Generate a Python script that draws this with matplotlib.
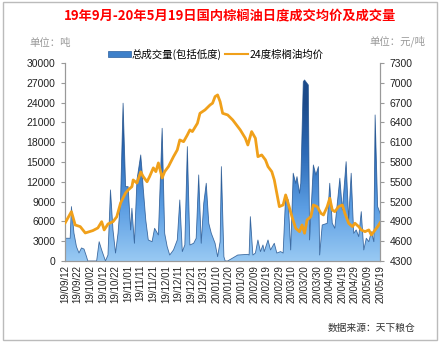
import numpy as np
import pandas as pd
import matplotlib
matplotlib.use('Agg')
import matplotlib.pyplot as plt
import matplotlib.dates as mdates
from matplotlib.colors import LinearSegmentedColormap
from matplotlib.patches import Patch, Rectangle
from matplotlib.lines import Line2D

plt.rcParams['font.family'] = ['Liberation Sans', 'Noto Sans CJK SC', 'DejaVu Sans']

# 总成交量 (吨)
vol_dates = ['2019-09-12', '2019-09-16', '2019-09-17', '2019-09-19', '2019-09-21', '2019-09-23',
             '2019-09-25', '2019-09-27', '2019-09-29', '2019-09-30', '2019-10-07', '2019-10-09',
             '2019-10-11', '2019-10-14', '2019-10-16', '2019-10-18', '2019-10-20', '2019-10-22',
             '2019-10-24', '2019-10-26', '2019-10-28', '2019-10-30', '2019-11-01', '2019-11-03',
             '2019-11-04', '2019-11-06', '2019-11-08', '2019-11-11', '2019-11-12', '2019-11-13',
             '2019-11-15', '2019-11-17', '2019-11-20', '2019-11-22', '2019-11-25', '2019-11-28',
             '2019-11-30', '2019-12-02', '2019-12-04', '2019-12-07', '2019-12-10', '2019-12-12',
             '2019-12-14', '2019-12-16', '2019-12-18', '2019-12-20', '2019-12-23', '2019-12-25',
             '2019-12-27', '2019-12-29', '2019-12-31', '2020-01-02', '2020-01-04', '2020-01-06',
             '2020-01-09', '2020-01-11', '2020-01-13', '2020-01-14', '2020-01-16', '2020-01-17',
             '2020-01-19', '2020-01-27', '2020-02-04', '2020-02-05', '2020-02-06', '2020-02-08',
             '2020-02-10', '2020-02-12', '2020-02-14', '2020-02-16', '2020-02-17', '2020-02-20',
             '2020-02-22', '2020-02-25', '2020-02-27', '2020-03-01', '2020-03-03', '2020-03-05',
             '2020-03-07', '2020-03-09', '2020-03-11', '2020-03-13', '2020-03-14', '2020-03-16',
             '2020-03-17', '2020-03-19', '2020-03-20', '2020-03-23', '2020-03-24', '2020-03-27',
             '2020-03-29', '2020-03-31', '2020-04-01', '2020-04-03', '2020-04-07', '2020-04-09',
             '2020-04-11', '2020-04-13', '2020-04-17', '2020-04-19', '2020-04-22', '2020-04-24',
             '2020-04-26', '2020-04-28', '2020-04-30', '2020-05-02', '2020-05-04', '2020-05-06',
             '2020-05-08', '2020-05-10', '2020-05-12', '2020-05-14', '2020-05-15', '2020-05-17',
             '2020-05-19']
volume = [3440, 3440, 8230, 4240, 2170, 1210,
          1970, 1800, 650, 0, 0, 2920,
          1670, 0, 900, 10760, 4700, 1200,
          4240, 9240, 23900, 11260, 11260, 4700,
          7980, 2680, 12270, 16060, 13790, 11000,
          6210, 3180, 2920, 4950, 3940, 20100,
          4190, 2170, 900, 1670, 3180, 9240,
          1420, 2420, 17320, 2420, 2680, 3440,
          13030, 2680, 8740, 11770, 5710, 4190,
          2680, 650, 2920, 14290, 650, 0,
          0, 900, 1000, 900, 6710, 900,
          1200, 3180, 1420, 2420, 1420, 3180,
          1670, 2680, 1200, 1420, 1200, 10000,
          9240, 1670, 13290, 11770, 12770, 10260,
          11770, 27160, 27420, 26660, 3180, 14540,
          13030, 14290, 900, 5450, 5710, 11770,
          5710, 4950, 12530, 7730, 15040, 6210,
          13290, 4190, 4700, 3690, 7470, 1670,
          3440, 2920, 4440, 2920, 22120, 8230,
          7220]

# 24度棕榈油均价 (元/吨)
price_dates = ['2019-09-12', '2019-09-17', '2019-09-20', '2019-09-24', '2019-09-28', '2019-10-04',
               '2019-10-08', '2019-10-11', '2019-10-13', '2019-10-16', '2019-10-20', '2019-10-23',
               '2019-10-26', '2019-10-30', '2019-11-01', '2019-11-04', '2019-11-05', '2019-11-08',
               '2019-11-11', '2019-11-13', '2019-11-16', '2019-11-18', '2019-11-21', '2019-11-23',
               '2019-11-25', '2019-11-28', '2019-11-30', '2019-12-03', '2019-12-07', '2019-12-10',
               '2019-12-12', '2019-12-15', '2019-12-18', '2019-12-20', '2019-12-22', '2019-12-26',
               '2019-12-28', '2020-01-01', '2020-01-05', '2020-01-07', '2020-01-09', '2020-01-11',
               '2020-01-13', '2020-01-15', '2020-01-19', '2020-01-23', '2020-01-29', '2020-02-02',
               '2020-02-04', '2020-02-07', '2020-02-10', '2020-02-12', '2020-02-15', '2020-02-18',
               '2020-02-20', '2020-02-23', '2020-02-25', '2020-02-27', '2020-02-29', '2020-03-03',
               '2020-03-05', '2020-03-07', '2020-03-10', '2020-03-13', '2020-03-16', '2020-03-18',
               '2020-03-20', '2020-03-22', '2020-03-25', '2020-03-27', '2020-03-30', '2020-04-02',
               '2020-04-04', '2020-04-07', '2020-04-09', '2020-04-11', '2020-04-13', '2020-04-16',
               '2020-04-19', '2020-04-21', '2020-04-24', '2020-04-27', '2020-04-29', '2020-05-02',
               '2020-05-04', '2020-05-07', '2020-05-10', '2020-05-12', '2020-05-14', '2020-05-17',
               '2020-05-19']
price = [4876, 5047, 4845, 4820, 4724, 4760,
         4800, 4895, 4770, 4860, 4895, 4970,
         5178, 5330, 5375, 5425, 5527, 5480,
         5650, 5577, 5500, 5577, 5710, 5653,
         5785, 5557, 5653, 5730, 5880, 5982,
         6133, 6107, 6209, 6285, 6260, 6386,
         6537, 6588, 6663, 6690, 6790, 6815,
         6713, 6537, 6512, 6436, 6285, 6159,
         6057, 6260, 6159, 5880, 5906, 5830,
         5729, 5653, 5527, 5325, 5123, 5148,
         5300, 5174, 4971, 4795, 4744, 4845,
         4720, 4921, 4971, 5148, 5123, 5022,
         4997, 5123, 5250, 5073, 5047, 5123,
         5148, 5022, 4871, 4820, 4871, 4820,
         4770, 4744, 4770, 4694, 4744, 4820,
         4880]

vd = pd.to_datetime(vol_dates)
pd_dates = pd.to_datetime(price_dates)
start = pd.Timestamp('2019-09-12')
end = pd.Timestamp('2020-05-19')

fig = plt.figure(figsize=(4.4, 3.42), dpi=100)
ax = fig.add_axes([0.148, 0.237, 0.716, 0.579])
ax2 = ax.twinx()

# gradient area
poly = ax.fill_between(vd, 0, volume, facecolor='none', edgecolor='none')
cmap = LinearSegmentedColormap.from_list('vol', ['#98c9f3', '#5c9ee3', '#2e6cb8', '#1b4a8a'])
grad = np.clip(np.linspace(0, 30000 / 24000, 256), 0, 1).reshape(-1, 1)
x0, x1 = mdates.date2num(start), mdates.date2num(end)
im = ax.imshow(grad, cmap=cmap, origin='lower', aspect='auto', vmin=0, vmax=1,
               extent=[x0, x1, 0, 30000], zorder=1)
path = poly.get_paths()[0]
im.set_clip_path(path, transform=ax.transData)
ax.plot(vd, volume, color='#1d4f8c', lw=0.6, alpha=0.8, zorder=2)

ax2.plot(pd_dates, price, color='#f0a01a', lw=2.0, solid_joinstyle='round', zorder=3)

ax.set_xlim(start, end)
ax.set_ylim(0, 30000)
ax2.set_ylim(4300, 7300)
ax.set_yticks(np.arange(0, 30001, 3000))
ax2.set_yticks(np.arange(4300, 7301, 300))

ticks = pd.date_range(start, end, freq='10D')
ax.set_xticks(ticks)
ax.set_xticklabels([t.strftime('%y/%m/%d') for t in ticks], rotation=90, fontsize=7)
ax.tick_params(axis='x', length=0, pad=3, colors='#222222')
ax.tick_params(axis='y', length=3, color='#999999', labelsize=7.5, labelcolor='#222222', pad=4)
ax2.tick_params(axis='y', length=3, color='#999999', labelsize=7.5, labelcolor='#222222', pad=4)

for a in (ax, ax2):
    a.spines['top'].set_visible(False)
    for s in ('left', 'right', 'bottom'):
        a.spines[s].set_color('#999999')
        a.spines[s].set_linewidth(0.8)

fig.text(0.523, 0.955, '19年9月-20年5月19日国内棕榈油日度成交均价及成交量',
         ha='center', va='center', color='#ff0000', fontsize=9.5, fontweight='bold',
         family=['Noto Sans CJK SC', 'DejaVu Sans'])
fig.text(0.068, 0.873, '单位：吨', ha='left', va='center', color='#999999', fontsize=7.5,
         family=['Noto Sans CJK SC', 'DejaVu Sans'])
fig.text(0.84, 0.88, '单位：元/吨', ha='left', va='center', color='#999999', fontsize=7.5,
         family=['Noto Sans CJK SC', 'DejaVu Sans'])

handles = [Patch(facecolor='#3d7fc9', edgecolor='#2b5f9e', lw=0.5),
           Line2D([0], [0], color='#f0a01a', lw=1.5)]
leg = fig.legend(handles, ['总成交量(包括低度)', '24度棕榈油均价'], loc='center',
                 bbox_to_anchor=(0.49, 0.842), ncol=2, frameon=False,
                 prop={'family': ['Noto Sans CJK SC', 'DejaVu Sans'], 'size': 7.5},
                 handlelength=2.2, handleheight=0.5, handletextpad=0.1, columnspacing=0.3)

fig.text(0.945, 0.04, '数据来源：天下粮仓', ha='right', va='center', color='#333333',
         fontsize=7, style='italic', family=['Noto Sans CJK SC', 'DejaVu Sans'])

fig.patches.append(Rectangle((0.007, 0.007), 0.986, 0.986, transform=fig.transFigure,
                             fill=False, edgecolor='#bbbbbb', lw=1))

fig.savefig('out.png', dpi=100)
